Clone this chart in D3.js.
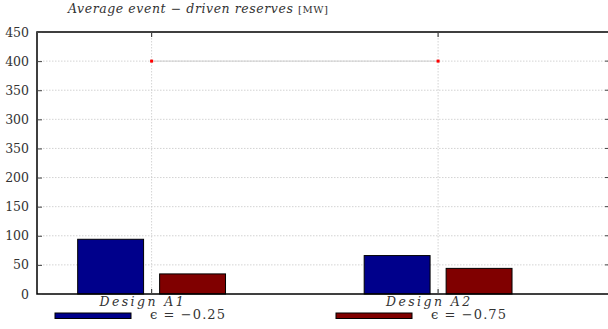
<!DOCTYPE html>
<html>
<head>
<meta charset="utf-8">
<script src="https://cdn.jsdelivr.net/npm/d3@7"></script>
<style>
  body { margin: 0; background: #fff; }
  svg { display: block; }
</style>
</head>
<body>
<svg id="chart" width="608" height="329"></svg>
<script>
// chart data
const categories = ["Design A1", "Design A2"];
const seriesNames = ["\u03f5 = \u22120.25", "\u03f5 = \u22120.75"];
const seriesColors = ["#00008b", "#800000"];
const reservesLow = [94, 66];   // eps = -0.25
const reservesHigh = [34.5, 44]; // eps = -0.75
const capLine = [400, 400];
const yTickValues = [0, 50, 100, 150, 200, 250, 300, 350, 400, 450];
const yTickLabels = ["0", "50", "100", "150", "200", "350", "300", "350", "400", "450"];

const svg = d3.select("#chart");
const plotLeft = 37, plotRight = 610, plotTop = 32, plotBottom = 294;

const x = d3.scaleLinear().domain([0, 2]).range([plotLeft, plotRight]);
const y = d3.scaleLinear().domain([0, 450]).range([plotBottom, plotTop]);
const catPos = categories.map((c, i) => i + 0.4);

// grid
const grid = svg.append("g").attr("stroke", "#c8c8c8").attr("stroke-dasharray", "1.5,1.5").attr("stroke-width", 0.8);
grid.selectAll(".h").data(yTickValues.slice(1, -1)).enter().append("line")
    .attr("x1", plotLeft).attr("x2", plotRight)
    .attr("y1", d => y(d)).attr("y2", d => y(d));
grid.selectAll(".v").data(catPos).enter().append("line")
    .attr("x1", d => x(d)).attr("x2", d => x(d))
    .attr("y1", plotTop).attr("y2", plotBottom);

// bars
const series = [reservesLow, reservesHigh];
const offsets = [[-0.258, -0.028], [0.028, 0.258]];
series.forEach((vals, s) => {
    svg.append("g").selectAll("rect").data(vals).enter().append("rect")
        .attr("x", (d, i) => x(catPos[i] + offsets[s][0]))
        .attr("width", (d, i) => x(catPos[i] + offsets[s][1]) - x(catPos[i] + offsets[s][0]))
        .attr("y", d => y(d))
        .attr("height", d => y(0) - y(d))
        .attr("fill", seriesColors[s])
        .attr("stroke", "#000")
        .attr("stroke-width", 1);
});

// 400 MW line with markers
svg.append("path")
    .datum(capLine)
    .attr("fill", "none")
    .attr("stroke", "#c4c4c4")
    .attr("stroke-width", 0.8)
    .attr("d", d3.line().x((d, i) => x(catPos[i])).y(d => y(d)));
svg.append("g").selectAll("rect").data(capLine).enter().append("rect")
    .attr("x", (d, i) => x(catPos[i]) - 1.5)
    .attr("y", d => y(d) - 1.5)
    .attr("width", 3).attr("height", 3)
    .attr("fill", "#ff0000");

// frame
svg.append("rect")
    .attr("x", plotLeft).attr("y", plotTop)
    .attr("width", plotRight - plotLeft).attr("height", plotBottom - plotTop)
    .attr("fill", "none").attr("stroke", "#000").attr("stroke-width", 1.5);

// y axis ticks (inside)
const yAxis = d3.axisLeft(y).tickValues(yTickValues)
    .tickSizeInner(-5).tickSizeOuter(0).tickPadding(8)
    .tickFormat((d, i) => yTickLabels[i]);
const gy = svg.append("g").attr("transform", `translate(${plotLeft},0)`).call(yAxis);
gy.select(".domain").remove();
gy.selectAll("line").attr("stroke", "#444").attr("stroke-width", 1);
gy.selectAll("text")
    .attr("font-family", "DejaVu Serif")
    .attr("font-size", 12.5)
    .attr("fill", "#333");

// right side ticks
svg.append("g").selectAll("line").data(yTickValues).enter().append("line")
    .attr("x1", plotRight - 5).attr("x2", plotRight)
    .attr("y1", d => y(d)).attr("y2", d => y(d))
    .attr("stroke", "#444");

// x ticks top & bottom
const xt = svg.append("g").attr("stroke", "#444").attr("stroke-width", 1.2);
xt.selectAll(".t").data(catPos).enter().append("line")
    .attr("x1", d => x(d)).attr("x2", d => x(d))
    .attr("y1", plotTop).attr("y2", plotTop + 5);
xt.selectAll(".b").data(catPos).enter().append("line")
    .attr("x1", d => x(d)).attr("x2", d => x(d))
    .attr("y1", plotBottom).attr("y2", plotBottom - 5);

// category labels
svg.append("g").selectAll("text").data(categories).enter().append("text")
    .attr("x", (d, i) => x(catPos[i]) - 10)
    .attr("y", 306)
    .attr("text-anchor", "middle")
    .attr("font-family", "DejaVu Serif")
    .attr("font-style", "italic")
    .attr("font-size", 12.5)
    .attr("textLength", 84)
    .attr("fill", "#333")
    .text(d => d);

// legend
const legendX = [55, 336];
const lg = svg.append("g").selectAll("g").data(seriesNames).enter().append("g")
    .attr("transform", (d, i) => `translate(${legendX[i]},313)`);
lg.append("rect")
    .attr("width", 76).attr("height", 5.5)
    .attr("fill", (d, i) => seriesColors[i])
    .attr("stroke", "#000").attr("stroke-width", 1);
lg.append("text")
    .attr("x", 95).attr("y", 6)
    .attr("font-family", "DejaVu Serif")
    .attr("font-size", 13)
    .attr("fill", "#333")
    .attr("textLength", 75)
    .text(d => d);

// title
const title = svg.append("text")
    .attr("x", 68).attr("y", 13)
    .attr("font-family", "DejaVu Serif")
    .attr("font-size", 12.5)
    .attr("fill", "#333")
    .attr("textLength", 260);
title.append("tspan").attr("font-style", "italic").text("Average event \u2212 driven reserves ");
title.append("tspan").attr("font-size", 10).text("[MW]");
</script>
</body>
</html>
